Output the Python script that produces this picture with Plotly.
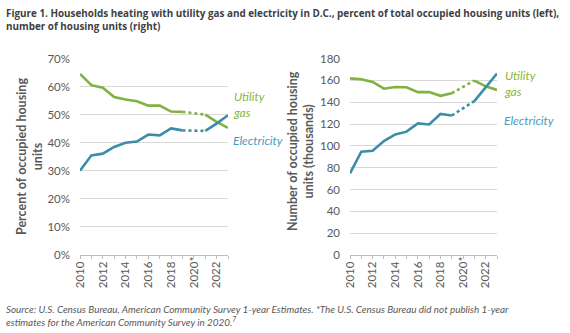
import plotly.graph_objects as go

years = [2010, 2011, 2012, 2013, 2014, 2015, 2016, 2017, 2018, 2019, 2021, 2022, 2023]
gas_pct = [64.5, 60.5, 59.6, 56.3, 55.4, 54.8, 53.2, 53.2, 51.1, 51.0, 50.0, 47.4, 45.3]
elec_pct = [30.0, 35.5, 36.1, 38.5, 40.0, 40.4, 42.9, 42.6, 45.1, 44.4, 44.2, 46.8, 49.8]
gas_num = [161.8, 161.0, 158.5, 152.3, 153.9, 153.6, 149.2, 149.2, 145.8, 148.2, 159.8, 154.5, 151.2]
elec_num = [74.8, 94.6, 95.5, 104.4, 110.5, 113.0, 120.5, 119.6, 129.2, 127.8, 141.0, 153.5, 166.2]

label_years = [2010, 2012, 2014, 2016, 2018, 2020, 2022]
pct_ticks = [0, 10, 20, 30, 40, 50, 60, 70]
num_ticks = [0, 20, 40, 60, 80, 100, 120, 140, 160, 180]

GREEN = "#7fb23e"
BLUE = "#3b8ea6"
GREEN_T = "#8ab63a"
BLUE_T = "#4a9cba"
GREY = "#595959"
FONT = "Lato"

W, H = 570, 333
def px(x):
    return x / W
def py(y):
    return 1 - y / H

fig = go.Figure()

def add_series(xs, ys, color, xa, ya):
    # solid 2010-2019, dotted 2019-2021 (no 2020 data), solid 2021-2023
    segs = [(xs[:10], ys[:10], "solid"), (xs[9:11], ys[9:11], "dot"), (xs[10:], ys[10:], "solid")]
    for sx, sy, dash in segs:
        fig.add_trace(go.Scatter(x=sx, y=sy, mode="lines", xaxis=xa, yaxis=ya,
                                 line=dict(color=color, width=2.6, dash=dash),
                                 showlegend=False, hoverinfo="skip"))

add_series(years, gas_pct, GREEN, "x", "y")
add_series(years, elec_pct, BLUE, "x", "y")
add_series(years, gas_num, GREEN, "x2", "y2")
add_series(years, elec_num, BLUE, "x2", "y2")

ydom = [py(255), py(58.5)]
xcommon = dict(range=[2010, 2023], tickmode="array", tickvals=label_years,
               ticktext=[str(v) for v in label_years],
               tickangle=-90, ticks="outside", ticklen=3, tickcolor="#bfbfbf",
               minor=dict(ticks="outside", dtick=1, tick0=2010, ticklen=3, tickcolor="#bfbfbf", showgrid=False),
               showline=True, linecolor="#bfbfbf", linewidth=1, showgrid=False,
               zeroline=False, tickfont=dict(family=FONT, size=11.5, color=GREY),
               ticklabelstandoff=-2, automargin=False, fixedrange=True)
xa1 = dict(xcommon); xa1.update(domain=[px(80), px(228)], anchor="y")
xa2 = dict(xcommon); xa2.update(domain=[px(350), px(497)], anchor="y2")

ycommon = dict(showgrid=True, gridcolor="#d9d9d9", gridwidth=1, zeroline=False,
               showline=False, ticks="", tickfont=dict(family=FONT, size=11.5, color=GREY),
               domain=ydom, ticklabelstandoff=9, automargin=False, fixedrange=True)
ya1 = dict(ycommon); ya1.update(range=[0, 70], tickvals=pct_ticks,
                                ticktext=[f"{v}%" for v in pct_ticks], anchor="x")
ya2 = dict(ycommon); ya2.update(range=[0, 180], tickvals=num_ticks,
                                ticktext=[str(v) for v in num_ticks], anchor="x2")

annotations = [
    dict(text="<b>Figure 1. Households heating with utility gas and electricity in D.C., percent of total occupied housing units (left),<br>number of housing units (right)</b>",
         x=px(4), y=py(4), xref="paper", yref="paper", xanchor="left", yanchor="top",
         align="left", showarrow=False, font=dict(family="Open Sans", size=9.9, color="#404040")),
    dict(text="<i>Source: U.S. Census Bureau, American Community Survey 1-year Estimates. *The U.S. Census Bureau did not publish 1-year<br>estimates for the American Community Survey in 2020.<sup>7</sup></i>",
         x=px(4), y=py(301), xref="paper", yref="paper", xanchor="left", yanchor="top",
         align="left", showarrow=False, font=dict(family=FONT, size=9.9, color=GREY)),
    dict(text="<b>Percent of occupied housing<br>units</b>", textangle=-90,
         x=px(30), y=py(157), xref="paper", yref="paper", xanchor="center", yanchor="middle",
         showarrow=False, font=dict(family=FONT, size=12.5, color=GREY)),
    dict(text="<b>Number of occupied housing<br>units (thousands)</b>", textangle=-90,
         x=px(300), y=py(151), xref="paper", yref="paper", xanchor="center", yanchor="middle",
         showarrow=False, font=dict(family=FONT, size=12.5, color=GREY)),
    dict(text="<i>Utility<br>gas</i>", x=px(231), y=py(104), xref="paper", yref="paper",
         xanchor="left", yanchor="middle", align="left", showarrow=False,
         font=dict(family=FONT, size=12, color=GREEN_T)),
    dict(text="<i>Electricity</i>", x=px(231), y=py(140), xref="paper", yref="paper",
         xanchor="left", yanchor="middle", align="left", showarrow=False,
         font=dict(family=FONT, size=12, color=BLUE_T)),
    dict(text="<i>Utility<br>gas</i>", x=px(502), y=py(83), xref="paper", yref="paper",
         xanchor="left", yanchor="middle", align="left", showarrow=False,
         font=dict(family=FONT, size=12, color=GREEN_T)),
    dict(text="<i>Electricity</i>", x=px(502), y=py(120), xref="paper", yref="paper",
         xanchor="left", yanchor="middle", align="left", showarrow=False,
         font=dict(family=FONT, size=12, color=BLUE_T)),
    dict(text="*", x=2019.75, y=py(261), xref="x", yref="paper", xanchor="center",
         yanchor="middle", showarrow=False, font=dict(family=FONT, size=11, color=GREY)),
    dict(text="*", x=2019.75, y=py(261), xref="x2", yref="paper", xanchor="center",
         yanchor="middle", showarrow=False, font=dict(family=FONT, size=11, color=GREY)),
]

fig.update_layout(width=W, height=H, margin=dict(l=0, r=0, t=0, b=0),
                  paper_bgcolor="white", plot_bgcolor="white",
                  xaxis=xa1, yaxis=ya1, xaxis2=xa2, yaxis2=ya2,
                  annotations=annotations, showlegend=False)

fig.write_html("out.html", config={"displayModeBar": False})
